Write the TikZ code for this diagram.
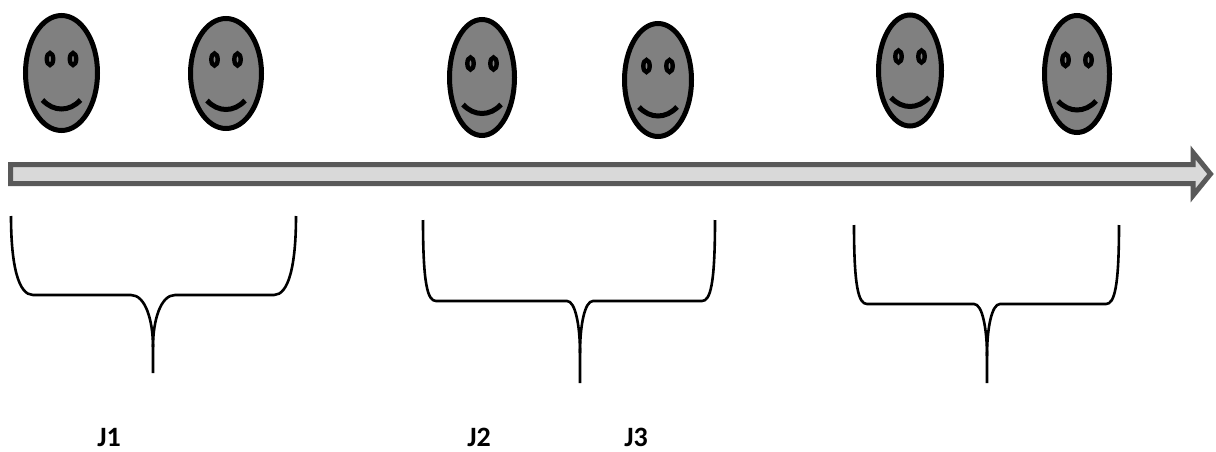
\documentclass[tikz,border=0pt]{standalone}
\usepackage{fontspec}
\setmainfont{Carlito}
\definecolor{facegray}{HTML}{808080}
\definecolor{arrowedge}{HTML}{595959}
\definecolor{arrowfill}{HTML}{D9D9D9}
\newcommand\smiley[4]{%
  \begin{scope}[shift={(#1,#2)}]
    \draw[facestyle] (0,0) ellipse [x radius=#3, y radius=#4];
    \draw[eyestyle] (-11.5,-14) ellipse [x radius=3.2, y radius=6];
    \draw[eyestyle] (11.5,-14) ellipse [x radius=3.2, y radius=6];
    \draw[mouthstyle] (-19,27) .. controls (-8,39) and (8,39) .. (19,27);
  \end{scope}}
\newcommand\mybrace[7]{%
  \draw[bracestyle] (#1,#4) .. controls (#1,#5-1.3*#7) and (#1+0.35*#7,#5) .. (#1+#7,#5)
     -- (#3-#7,#5) .. controls (#3-0.35*#7,#5) and (#3,#5+25) .. (#3,#5+52) -- (#3,#6);
  \draw[bracestyle] (#2,#4) .. controls (#2,#5-1.3*#7) and (#2-0.35*#7,#5) .. (#2-#7,#5)
     -- (#3+#7,#5) .. controls (#3+0.35*#7,#5) and (#3,#5+25) .. (#3,#5+52);}
\begin{document}
\begin{tikzpicture}[x=1pt,y=-1pt,
  facestyle/.style={fill=facegray,draw=black,line width=5pt},
  eyestyle/.style={fill=facegray,draw=black,line width=4.4pt},
  mouthstyle/.style={draw=black,line width=5pt},
  bracestyle/.style={draw=black,line width=2.6pt},
  timearrow/.style={draw=arrowedge,fill=arrowfill,line width=5pt,line join=miter},
  lab/.style={font=\bfseries\fontsize{28}{28}\selectfont,inner sep=0pt,anchor=base}]
\useasboundingbox (0,0) rectangle (1216,452);
% faces
\smiley{61.5}{73}{36}{57.5}
\smiley{226}{73.5}{35.5}{55}
\smiley{482}{77.5}{32.5}{58}
\smiley{658}{80}{33.5}{56.5}
\smiley{910}{70.5}{31.5}{55.5}
\smiley{1077}{74}{32.5}{58.5}
% arrow
\draw[timearrow] (10.5,164.5) -- (1193,164.5) -- (1193,152.5) -- (1210.5,174)
   -- (1193,195.5) -- (1193,183.5) -- (10.5,183.5) -- cycle;
% braces
\mybrace{11}{296}{153}{216}{295}{373}{22}
\mybrace{423}{715}{580}{220}{301}{383}{13}
\mybrace{854}{1119}{987}{225}{304}{383}{13}
% labels
\node[lab] (j1) at (109,446) {J1};
\node[lab] (j2) at (479,446) {J2};
\node[lab] (j3) at (636,446) {J3};
\end{tikzpicture}
\end{document}
